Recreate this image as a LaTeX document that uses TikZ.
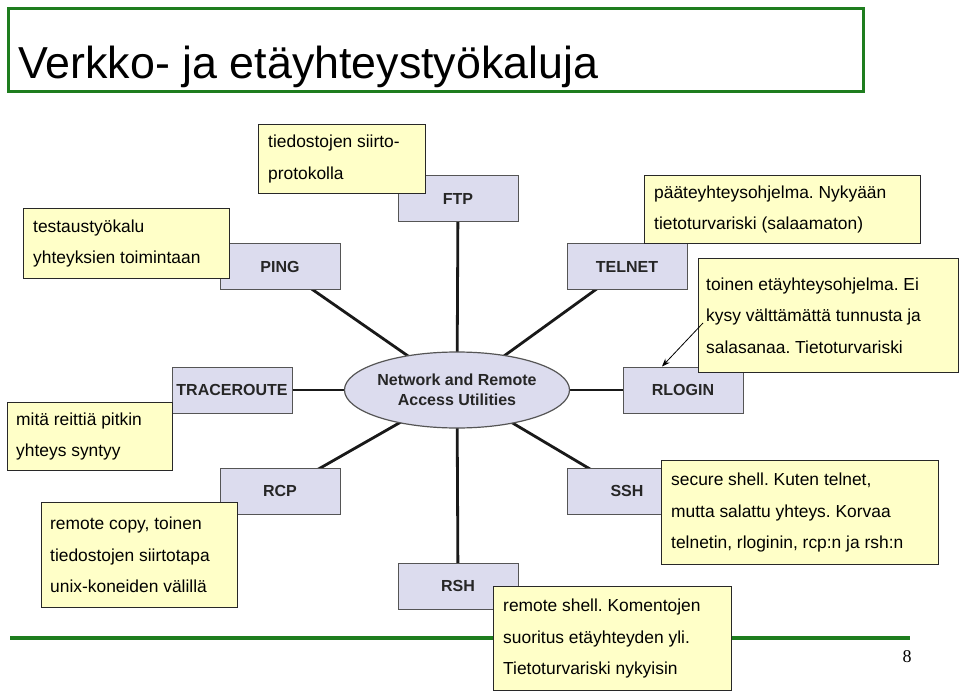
\documentclass[tikz,border=0pt]{standalone}
\usepackage{fontspec}
\setmainfont{Liberation Sans}
\newfontfamily\serifnum{Liberation Serif}
\usetikzlibrary{shapes.geometric, arrows.meta}
\definecolor{titlegreen}{RGB}{30,125,30}
\definecolor{boxfill}{RGB}{220,220,238}
\definecolor{boxline}{RGB}{85,85,85}
\definecolor{notefill}{RGB}{255,255,200}
\definecolor{noteline}{RGB}{40,40,40}
\frenchspacing
\begin{document}
\begin{tikzpicture}[x=1pt,y=-1pt,
 tool/.style={draw=boxline, line width=1pt, fill=boxfill, minimum width=120pt, minimum height=46pt, inner sep=0pt, font=\fontsize{16}{19}\selectfont\bfseries, text=black!85},
 note/.style={draw=noteline, line width=1.2pt, fill=notefill, anchor=north west, inner sep=0pt},
 notetext/.style={anchor=west, align=left, inner sep=0pt, font=\fontsize{17.4}{31.5}\selectfont},
 spoke/.style={line width=2.8pt, black!90},
]
\useasboundingbox (0,0) rectangle (960,692);
\fill[white] (0,0) rectangle (960,692);

% title
\node[draw=titlegreen, line width=3pt, minimum width=855pt, minimum height=83pt, anchor=north west, inner sep=0pt] (titlebox) at (7,7) {};
\node[anchor=base west, inner sep=0pt, font=\fontsize{44.8}{50}\selectfont] (title) at (18,79) {Verkko- ja etäyhteystyökaluja};

% footer line and page number
\coordinate (gl) at (10,638);
\coordinate (gr) at (910,638);
\draw[titlegreen, line width=4pt] (gl) -- (gr);
\node[font=\serifnum\fontsize{18}{20}\selectfont, anchor=base, inner sep=0pt] (pagenum) at (907,662) {8};

% hub position and tool positions
\coordinate (hubc) at (457,390);
\coordinate (ftpc) at (458,199);
\coordinate (pingc) at (280,267);
\coordinate (telnetc) at (627,267);
\coordinate (tracec) at (232,390);
\coordinate (rloginc) at (683,390);
\coordinate (rcpc) at (280,491);
\coordinate (sshc) at (627,491);
\coordinate (rshc) at (458,586);

% spokes
\foreach \t in {ftpc,pingc,telnetc,tracec,rloginc,rcpc,sshc,rshc}
  \draw[spoke] (hubc) -- (\t);

\node[tool] (ftp) at (ftpc) {FTP};
\node[tool] (ping) at (pingc) {PING};
\node[tool] (telnet) at (telnetc) {TELNET};
\node[tool] (traceroute) at (tracec) {TRACEROUTE};
\node[tool] (rlogin) at (rloginc) {RLOGIN};
\node[tool] (rcp) at (rcpc) {RCP};
\node[tool] (ssh) at (sshc) {SSH};
\node[tool] (rsh) at (rshc) {RSH};

\node[ellipse, draw=boxline, line width=1.2pt, fill=boxfill, minimum width=212pt, minimum height=76pt, inner sep=0pt, align=center, font=\fontsize{16}{19.5}\selectfont\bfseries, text=black!85] (hub) at (hubc) {Network and Remote\\Access Utilities};

% notes
\node[note, minimum width=167pt, minimum height=69pt] (n1) at (258,124) {};
\node[notetext] (n1t) at ([xshift=10pt]n1.west) {tiedostojen siirto-\\protokolla};

\node[note, minimum width=206pt, minimum height=70pt] (n2) at (23,208) {};
\node[notetext] (n2t) at ([xshift=10pt]n2.west) {testaustyökalu\\yhteyksien toimintaan};

\node[note, minimum width=276pt, minimum height=68pt] (n3) at (644,175) {};
\node[notetext] (n3t) at ([xshift=10pt]n3.west) {pääteyhteysohjelma. Nykyään\\tietoturvariski (salaamaton)};

\node[note, minimum width=260pt, minimum height=114pt] (n4) at (698,258) {};
\node[notetext] (n4t) at ([xshift=8pt]n4.west) {toinen etäyhteysohjelma. Ei\\kysy välttämättä tunnusta ja\\salasanaa. Tietoturvariski};

\node[note, minimum width=165pt, minimum height=68pt] (n5) at (7,402) {};
\node[notetext] (n5t) at ([xshift=9pt]n5.west) {mitä reittiä pitkin\\yhteys syntyy};

\node[note, minimum width=196pt, minimum height=105pt] (n6) at (41,502) {};
\node[notetext] (n6t) at ([xshift=9pt]n6.west) {remote copy, toinen\\tiedostojen siirtotapa\\unix-koneiden välillä};

\node[note, minimum width=277pt, minimum height=104pt] (n7) at (661,460) {};
\node[notetext] (n7t) at ([xshift=10pt]n7.west) {secure shell. Kuten telnet,\\mutta salattu yhteys. Korvaa\\telnetin, rloginin, rcp:n ja rsh:n};

\node[note, minimum width=238pt, minimum height=104pt] (n8) at (493,586) {};
\node[notetext] (n8t) at ([xshift=10pt]n8.west) {remote shell. Komentojen\\suoritus etäyhteyden yli.\\Tietoturvariski nykyisin};

% arrow from note 4 to RLOGIN
\coordinate (arrstart) at (703,323);
\draw[-{Stealth[length=8pt,width=6pt]}, line width=0.8pt] (arrstart) -- ([xshift=-21pt]rlogin.north);
\end{tikzpicture}
\end{document}
